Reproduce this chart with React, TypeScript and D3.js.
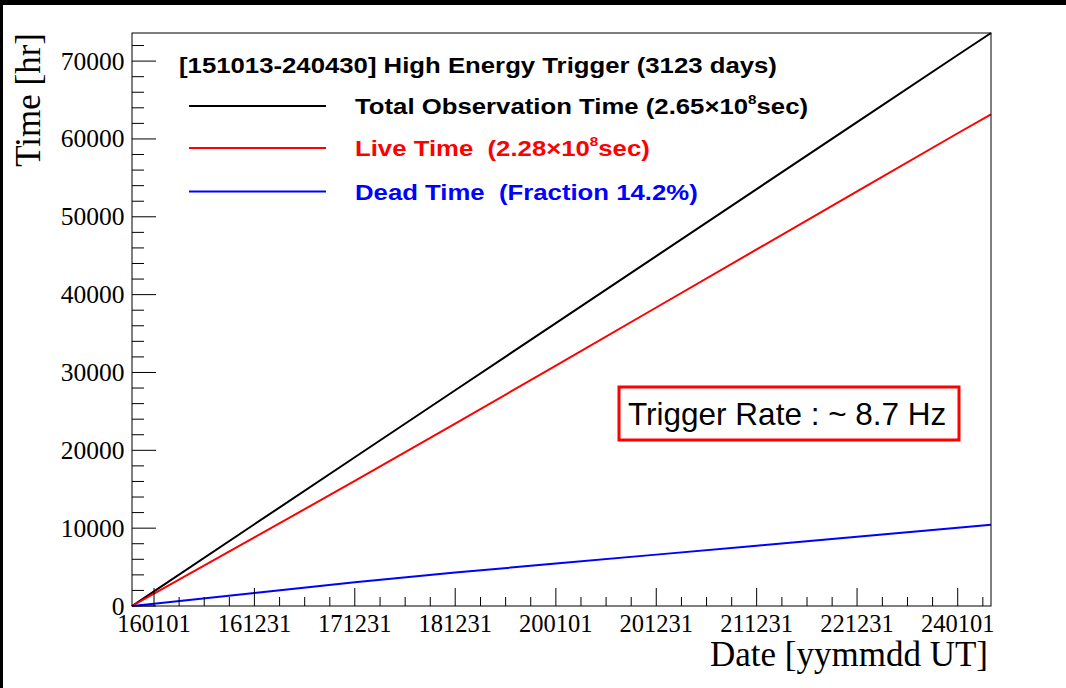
import React from "react";
import * as d3 from "d3";

// ---- data (hours, cumulative) ----
const dates = ["151013", "160101", "161231", "171231", "181231", "200101", "201231", "211231", "221231", "240101", "240501"];
const totalHours = [0, 1885, 10497, 19110, 27722, 36334, 44946, 53559, 62171, 70783, 73611];
const liveHours = [0, 1595, 8817, 16060, 23422, 30884, 38346, 45809, 53271, 60733, 63161];
const deadHours = [0, 290, 1680, 3050, 4300, 5450, 6600, 7750, 8900, 10050, 10450];

const xTickLabels = ["160101", "161231", "171231", "181231", "200101", "201231", "211231", "221231", "240101"];
const yTickValues = [0, 10000, 20000, 30000, 40000, 50000, 60000, 70000];

const titleText = "[151013-240430] High Energy Trigger (3123 days)";
const rateText = "Trigger Rate : ~ 8.7 Hz";

const W = 1066, H = 688;
const L = 132, R = 991, T = 33, B = 606;

const parse = d3.utcParse("%y%m%d");

export default function App() {
  const dts = dates.map((d) => parse(d) as Date);
  const x = d3.scaleUtc().domain([dts[0], dts[dts.length - 1]]).range([L, R]);
  const y = d3.scaleLinear().domain([0, d3.max(totalHours) as number]).range([B, T]);

  const mkLine = (vals: number[]) =>
    d3.line<number>().x((_, i) => x(dts[i])).y((v) => y(v))(vals) as string;

  const majors = xTickLabels.map((s) => parse(s) as Date);
  const yearMs = (majors[majors.length - 1].getTime() - majors[0].getTime()) / (majors.length - 1);
  const minors: Date[] = [];
  for (let k = -4; k <= (majors.length - 1) * 4 + 4; k++) {
    if (k % 4 === 0) continue;
    const t = new Date(majors[0].getTime() + (k * yearMs) / 4);
    if (t >= dts[0] && t <= dts[dts.length - 1]) minors.push(t);
  }

  const yMinor: number[] = d3.range(0, d3.max(totalHours) as number, 2000).filter((v) => v % 10000 !== 0);

  const serif = "'Liberation Serif', 'Times New Roman', serif";
  const sans = "'Liberation Sans', Arial, Helvetica, sans-serif";
  const SX = 1.17; // horizontal stretch of legend font

  const legendItems = [
    { color: "#000000", vals: totalHours, main: "Total Observation Time (2.65×10", sup: "8", tail: "sec)", ly: 106 },
    { color: "#ff0000", vals: liveHours, main: "Live Time  (2.28×10", sup: "8", tail: "sec)", ly: 148 },
    { color: "#0000ff", vals: deadHours, main: "Dead Time  (Fraction 14.2%)", sup: "", tail: "", ly: 191.5 },
  ];

  return (
    <svg width={W} height={H} style={{ position: "fixed", left: 0, top: 0, background: "#fff" }}>
      <rect x={0} y={0} width={W} height={H} fill="#fff" />
      <rect x={0} y={0} width={W} height={5} fill="#000" />
      <rect x={0} y={0} width={3} height={H} fill="#000" />

      {/* data lines */}
      {legendItems.map((it, i) => (
        <path key={"l" + i} d={mkLine(it.vals)} fill="none" stroke={it.color} strokeWidth={2} />
      ))}

      {/* frame */}
      <rect x={L} y={T} width={R - L} height={B - T} fill="none" stroke="#000" strokeWidth={1} />

      {/* y ticks */}
      {yTickValues.map((v) => (
        <g key={"yt" + v}>
          <line x1={L} x2={L + 24} y1={y(v)} y2={y(v)} stroke="#000" strokeWidth={1} />
          <text x={124.5} y={y(v) + 8.5} textAnchor="end" fontFamily={serif} fontSize={25.5} fill="#000">
            {v}
          </text>
        </g>
      ))}
      {yMinor.map((v) => (
        <line key={"ym" + v} x1={L} x2={L + 12} y1={y(v)} y2={y(v)} stroke="#000" strokeWidth={1} />
      ))}

      {/* x ticks */}
      {majors.map((d, i) => (
        <g key={"xt" + i}>
          <line x1={x(d)} x2={x(d)} y1={B} y2={B - 18} stroke="#000" strokeWidth={1} />
          <text x={x(d)} y={632} textAnchor="middle" fontFamily={serif} fontSize={24.5} fill="#000">
            {xTickLabels[i]}
          </text>
        </g>
      ))}
      {minors.map((d, i) => (
        <line key={"xm" + i} x1={x(d)} x2={x(d)} y1={B} y2={B - 9} stroke="#000" strokeWidth={1} />
      ))}

      {/* axis titles */}
      <text x={988} y={666} textAnchor="end" fontFamily={serif} fontSize={35} fill="#000">
        Date [yymmdd UT]
      </text>
      <text transform={`translate(40,33) rotate(-90)`} textAnchor="end" fontFamily={serif} fontSize={35} fill="#000">
        Time [hr]
      </text>

      {/* legend */}
      <g transform={`translate(179,73) scale(${SX},1)`}>
        <text x={0} y={0} fontFamily={sans} fontWeight="bold" fontSize={22} fill="#000">
          {titleText}
        </text>
      </g>
      {legendItems.map((it, i) => (
        <g key={"lg" + i}>
          <line x1={189} x2={326} y1={it.ly} y2={it.ly} stroke={it.color} strokeWidth={2} />
          <g transform={`translate(355,${it.ly + 8}) scale(${SX},1)`}>
            <text x={0} y={0} fontFamily={sans} fontWeight="bold" fontSize={22} fill={it.color} style={{ whiteSpace: "pre" }}>
              {it.main}
              {it.sup ? (
                <tspan fontSize={13} dy={-10}>{it.sup}</tspan>
              ) : null}
              {it.tail ? <tspan dy={10}>{it.tail}</tspan> : null}
            </text>
          </g>
        </g>
      ))}

      {/* rate box */}
      <rect x={619} y={387} width={340} height={53} fill="#fff" stroke="#ff0000" strokeWidth={3} />
      <text x={628} y={425} fontFamily={sans} fontSize={31.5} fill="#000">
        {rateText}
      </text>
    </svg>
  );
}
